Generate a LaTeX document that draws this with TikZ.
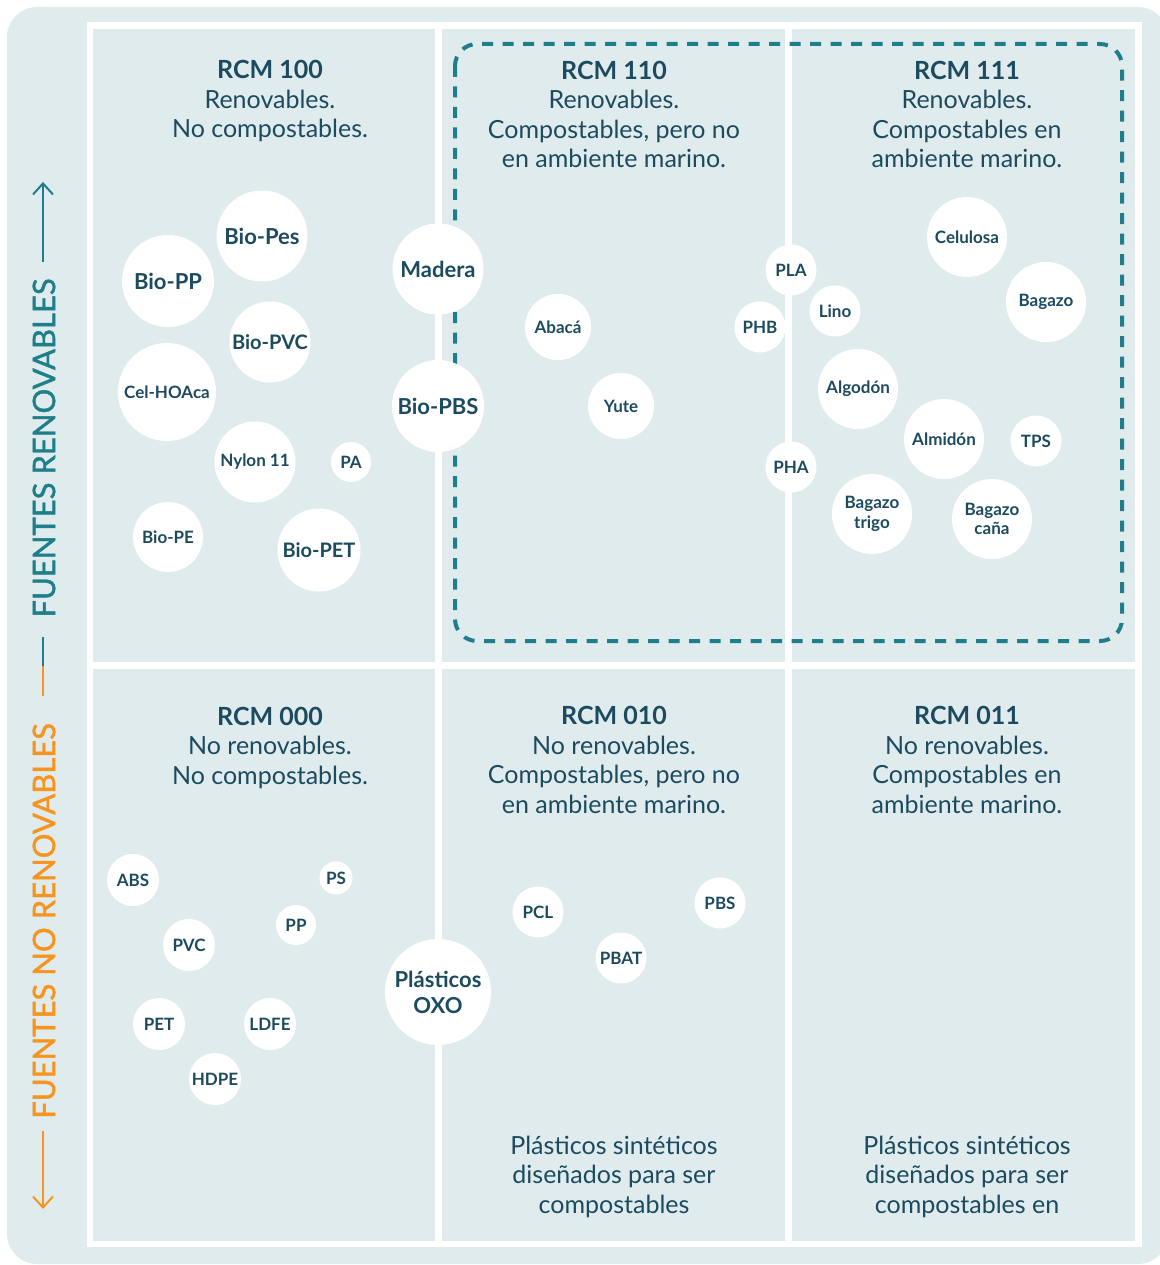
\documentclass[tikz,border=0pt]{standalone}
\usepackage{fontspec}
\setmainfont{Lato}
\usepackage{tikz}
\usetikzlibrary{arrows.meta}
\definecolor{panel}{RGB}{224,235,237}
\definecolor{ink}{RGB}{28,75,95}
\definecolor{darkteal}{RGB}{30,127,138}
\definecolor{amber}{RGB}{247,148,30}
\tikzset {
  % white material bubbles
  bubble/.style = {circle, fill=white, text=ink, inner sep=0pt, align=center,
    font=\bfseries\fontsize{17}{19.5}\selectfont},
  big/.style = {font=\bfseries\fontsize{22}{26}\selectfont},
  mid/.style = {font=\bfseries\fontsize{20}{23}\selectfont},
  % quadrant texts, placed by the baseline of their last line
  head/.style = {text=ink, align=center, anchor=base, font=\fontsize{25}{29.5}\selectfont},
  cell/.style = {fill=panel},
  boundary/.style = {draw=darkteal, line width=4pt, dash pattern=on 11pt off 9.5pt, rounded corners=22pt},
  % side axis
  axisline/.style = {line width=2pt},
  axislabel/.style = {rotate=90, font=\fontsize{31}{31}\selectfont\addfontfeature{FakeBold=1.3}},
}

\begin{document}
\begin{tikzpicture}[x=1pt, y=-1pt]
  \useasboundingbox (0,0) rectangle (1159,1265);
  \fill[panel, rounded corners=30pt] (7,7) rectangle (1168,1264);

  % grid of the six quadrants
  \fill[white] (87,22) rectangle (1142,1247);
  \fill[cell] (93,29) rectangle (435,662);
  \fill[cell] (442,29) rectangle (785,662);
  \fill[cell] (792,29) rectangle (1135,662);
  \fill[cell] (93,669) rectangle (435,1241);
  \fill[cell] (442,669) rectangle (785,1241);
  \fill[cell] (792,669) rectangle (1135,1241);

  \draw[boundary] (455,44) rectangle (1122,641);

  \node[head] (h100) at (270,138) {\textbf{RCM 100}\\Renovables.\\No compostables.};
  \node[head] (h110) at (614,168) {\textbf{RCM 110}\\Renovables.\\Compostables, pero no\\en ambiente marino.};
  \node[head] (h111) at (967,168) {\textbf{RCM 111}\\Renovables.\\Compostables en\\ambiente marino.};
  \node[head] (h000) at (270,784) {\textbf{RCM 000}\\No renovables.\\No compostables.};
  \node[head] (h010) at (614,813) {\textbf{RCM 010}\\No renovables.\\Compostables, pero no\\en ambiente marino.};
  \node[head] (h011) at (967,813) {\textbf{RCM 011}\\No renovables.\\Compostables en\\ambiente marino.};
  \node[head] (sint1) at (614,1213) {Plásticos sintéticos\\diseñados para ser\\compostables};
  \node[head] (sint2) at (967,1213) {Plásticos sintéticos\\diseñados para ser\\compostables en};

  % renewable, not compostable
  \node[bubble, big, minimum size=91pt] (biopes) at (262,236) {Bio-Pes};
  \node[bubble, big, minimum size=92pt] (biopp) at (168,281) {Bio-PP};
  \node[bubble, mid, minimum size=81pt] (biopvc) at (270,342) {Bio-PVC};
  \node[bubble, minimum size=98pt] (celhoaca) at (167,392) {Cel-HOAca};
  \node[bubble, minimum size=81pt] (nylon) at (255,462) {Nylon 11};
  \node[bubble, minimum size=40pt] (pa) at (351,462) {PA};
  \node[bubble, minimum size=70pt] (biope) at (168,537) {Bio-PE};
  \node[bubble, mid, minimum size=83pt] (biopet) at (319,550) {Bio-PET};
  \node[bubble, big, minimum size=91pt] (madera) at (438,269) {Madera};
  \node[bubble, big, minimum size=92pt] (biopbs) at (438,406) {Bio-PBS};

  % renewable, compostable
  \node[bubble, minimum size=66pt] (abaca) at (558,327) {Abacá};
  \node[bubble, minimum size=66pt] (yute) at (621,406) {Yute};
  \node[bubble, minimum size=51pt] (pla) at (791,270) {PLA};
  \node[bubble, minimum size=51pt] (phb) at (760,327) {PHB};
  \node[bubble, minimum size=51pt] (pha) at (791,467) {PHA};
  \node[bubble, minimum size=51pt] (lino) at (835,311) {Lino};
  \node[bubble, minimum size=80pt] (celulosa) at (967,237) {Celulosa};
  \node[bubble, minimum size=80pt] (bagazo) at (1046,302) {Bagazo};
  \node[bubble, minimum size=80pt] (algodon) at (858,389) {Algodón};
  \node[bubble, minimum size=80pt] (almidon) at (944,439) {Almidón};
  \node[bubble, minimum size=51pt] (tps) at (1036,441) {TPS};
  \node[bubble, minimum size=80pt] (btrigo) at (872,514) {Bagazo\\trigo};
  \node[bubble, minimum size=80pt] (bcana) at (992,519) {Bagazo\\caña};

  % not renewable
  \node[bubble, minimum size=52pt] (abs) at (133,880) {ABS};
  \node[bubble, minimum size=33pt] (ps) at (336,878) {PS};
  \node[bubble, minimum size=40pt] (pp) at (296,925) {PP};
  \node[bubble, minimum size=52pt] (pvc) at (189,945) {PVC};
  \node[bubble, minimum size=52pt] (pet) at (159,1024) {PET};
  \node[bubble, minimum size=52pt] (ldfe) at (270,1024) {LDFE};
  \node[bubble, minimum size=52pt] (hdpe) at (215,1079) {HDPE};
  \node[bubble, big, minimum size=106pt] (oxo) at (438,992) {Plásticos\\OXO};
  \node[bubble, minimum size=51pt] (pcl) at (538,912) {PCL};
  \node[bubble, minimum size=51pt] (pbat) at (621,958) {PBAT};
  \node[bubble, minimum size=51pt] (pbs) at (720,903) {PBS};

  % side axis
  \node[axislabel, text=darkteal] (renov) at (44,448) {FUENTES RENOVABLES};
  \node[axislabel, text=amber] (norenov) at (44,921) {FUENTES NO RENOVABLES};
  \coordinate (upfoot) at (43,262);
  \coordinate (uptip) at (43,182);
  \coordinate (midtop) at (43,637);
  \coordinate (midjoin) at (43,666);
  \coordinate (midbot) at (43,696);
  \coordinate (downfoot) at (43,1131);
  \coordinate (downtip) at (43,1209);
  \draw[axisline, darkteal, -{Straight Barb[length=11pt, width=20pt]}] (upfoot) -- (uptip);
  \draw[axisline, darkteal] (midtop) -- (midjoin);
  \draw[axisline, amber] (midjoin) -- (midbot);
  \draw[axisline, amber, -{Straight Barb[length=11pt, width=20pt]}] (downfoot) -- (downtip);
\end{tikzpicture}
\end{document}
